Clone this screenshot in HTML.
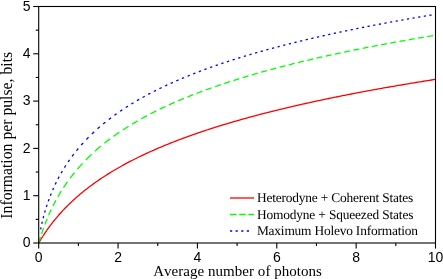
<!DOCTYPE html>
<html><head><meta charset="utf-8"><style>
html,body{margin:0;padding:0;background:#fff;}
svg{display:block;will-change:transform}
text{font-kerning:none;font-variant-ligatures:none}
.sans{font-family:"Liberation Sans",sans-serif;font-size:14px;fill:#000}
.serif{font-family:"Liberation Serif",serif;font-size:13.4px;fill:#000}
.ax{font-family:"Liberation Serif",serif;font-size:15px;fill:#000}
</style></head><body>
<svg width="443" height="279" viewBox="0 0 443 279">
<rect width="443" height="279" fill="#fff"/>
<g fill="none" stroke-width="1.3" stroke-linecap="butt">
<path d="M38.70,243.00 L38.70,243.00 L38.71,242.98 L38.72,242.96 L38.74,242.93 L38.76,242.89 L38.79,242.85 L38.82,242.79 L38.86,242.73 L38.90,242.66 L38.95,242.57 L39.00,242.49 L39.06,242.39 L39.12,242.28 L39.19,242.17 L39.26,242.05 L39.33,241.92 L39.42,241.78 L39.50,241.63 L39.60,241.48 L39.69,241.31 L39.79,241.14 L39.90,240.97 L40.01,240.78 L40.13,240.59 L40.25,240.39 L40.38,240.18 L40.51,239.96 L40.64,239.74 L40.79,239.50 L40.93,239.27 L41.08,239.02 L41.24,238.77 L41.40,238.51 L41.57,238.24 L41.74,237.97 L41.91,237.69 L42.10,237.40 L42.28,237.10 L42.47,236.80 L42.67,236.50 L42.87,236.18 L43.07,235.86 L43.29,235.54 L43.50,235.21 L43.72,234.87 L43.95,234.52 L44.18,234.17 L44.41,233.82 L44.65,233.46 L44.90,233.09 L45.15,232.72 L45.41,232.34 L45.67,231.96 L45.93,231.58 L46.20,231.18 L46.48,230.79 L46.76,230.38 L47.04,229.98 L47.33,229.57 L47.63,229.15 L47.93,228.73 L48.23,228.31 L48.54,227.88 L48.86,227.45 L49.18,227.01 L49.50,226.57 L49.83,226.12 L50.17,225.68 L50.51,225.22 L50.85,224.77 L51.20,224.31 L51.56,223.85 L51.92,223.38 L52.28,222.91 L52.65,222.44 L53.02,221.97 L53.40,221.49 L53.79,221.01 L54.18,220.53 L54.57,220.04 L54.97,219.55 L55.38,219.06 L55.78,218.57 L56.20,218.07 L56.62,217.57 L57.04,217.07 L57.47,216.57 L57.91,216.06 L58.34,215.56 L58.79,215.05 L59.24,214.54 L59.69,214.02 L60.15,213.51 L60.61,212.99 L61.08,212.48 L61.56,211.96 L62.03,211.44 L62.52,210.92 L63.01,210.39 L63.50,209.87 L64.00,209.34 L64.50,208.82 L65.01,208.29 L65.52,207.76 L66.04,207.23 L66.57,206.70 L67.09,206.17 L67.63,205.64 L68.16,205.10 L68.71,204.57 L69.26,204.03 L69.81,203.50 L70.37,202.96 L70.93,202.43 L71.50,201.89 L72.07,201.35 L72.65,200.82 L73.23,200.28 L73.82,199.74 L74.41,199.20 L75.01,198.66 L75.61,198.12 L76.22,197.58 L76.83,197.04 L77.45,196.50 L78.07,195.96 L78.70,195.43 L79.33,194.89 L79.97,194.35 L80.61,193.81 L81.26,193.27 L81.91,192.73 L82.57,192.19 L83.23,191.65 L83.90,191.11 L84.57,190.57 L85.25,190.04 L85.93,189.50 L86.62,188.96 L87.31,188.43 L88.00,187.89 L88.71,187.35 L89.41,186.82 L90.13,186.28 L90.84,185.75 L91.56,185.21 L92.29,184.68 L93.02,184.15 L93.76,183.61 L94.50,183.08 L95.25,182.55 L96.00,182.02 L96.75,181.49 L97.52,180.96 L98.28,180.43 L99.05,179.90 L99.83,179.37 L100.61,178.85 L101.40,178.32 L102.19,177.80 L102.98,177.27 L103.79,176.75 L104.59,176.23 L105.40,175.70 L106.22,175.18 L107.04,174.66 L107.86,174.14 L108.70,173.62 L109.53,173.10 L110.37,172.59 L111.22,172.07 L112.07,171.56 L112.92,171.04 L113.78,170.53 L114.65,170.01 L115.52,169.50 L116.40,168.99 L117.28,168.48 L118.16,167.97 L119.05,167.46 L119.95,166.96 L120.85,166.45 L121.75,165.95 L122.66,165.44 L123.58,164.94 L124.50,164.44 L125.42,163.94 L126.35,163.44 L127.29,162.94 L128.23,162.44 L129.17,161.94 L130.12,161.44 L131.08,160.95 L132.04,160.46 L133.00,159.96 L133.97,159.47 L134.95,158.98 L135.93,158.49 L136.91,158.00 L137.90,157.51 L138.89,157.03 L139.89,156.54 L140.90,156.05 L141.91,155.57 L142.92,155.09 L143.94,154.61 L144.97,154.13 L145.99,153.65 L147.03,153.17 L148.07,152.69 L149.11,152.21 L150.16,151.74 L151.22,151.26 L152.27,150.79 L153.34,150.32 L154.41,149.85 L155.48,149.38 L156.56,148.91 L157.64,148.44 L158.73,147.97 L159.83,147.51 L160.92,147.04 L162.03,146.58 L163.14,146.12 L164.25,145.66 L165.37,145.20 L166.49,144.74 L167.62,144.28 L168.75,143.82 L169.89,143.37 L171.04,142.91 L172.18,142.46 L173.34,142.00 L174.49,141.55 L175.66,141.10 L176.83,140.65 L178.00,140.20 L179.18,139.75 L180.36,139.31 L181.55,138.86 L182.74,138.42 L183.94,137.97 L185.14,137.53 L186.35,137.09 L187.56,136.65 L188.78,136.21 L190.00,135.77 L191.23,135.34 L192.46,134.90 L193.70,134.46 L194.94,134.03 L196.19,133.60 L197.44,133.17 L198.70,132.73 L199.96,132.30 L201.23,131.88 L202.50,131.45 L203.78,131.02 L205.06,130.59 L206.35,130.17 L207.64,129.75 L208.94,129.32 L210.24,128.90 L211.55,128.48 L212.86,128.06 L214.17,127.64 L215.50,127.22 L216.82,126.81 L218.16,126.39 L219.49,125.97 L220.83,125.56 L222.18,125.15 L223.53,124.74 L224.89,124.32 L226.25,123.91 L227.62,123.51 L228.99,123.10 L230.36,122.69 L231.75,122.28 L233.13,121.88 L234.52,121.47 L235.92,121.07 L237.32,120.67 L238.73,120.27 L240.14,119.87 L241.55,119.47 L242.98,119.07 L244.40,118.67 L245.83,118.27 L247.27,117.88 L248.71,117.48 L250.15,117.09 L251.61,116.70 L253.06,116.30 L254.52,115.91 L255.99,115.52 L257.46,115.13 L258.93,114.74 L260.41,114.36 L261.90,113.97 L263.39,113.58 L264.89,113.20 L266.39,112.81 L267.89,112.43 L269.40,112.05 L270.92,111.67 L272.44,111.29 L273.96,110.91 L275.49,110.53 L277.03,110.15 L278.57,109.77 L280.11,109.40 L281.66,109.02 L283.22,108.65 L284.78,108.27 L286.34,107.90 L287.91,107.53 L289.49,107.16 L291.07,106.79 L292.65,106.42 L294.24,106.05 L295.84,105.68 L297.44,105.32 L299.04,104.95 L300.65,104.59 L302.26,104.22 L303.88,103.86 L305.51,103.50 L307.14,103.13 L308.77,102.77 L310.41,102.41 L312.06,102.05 L313.70,101.69 L315.36,101.34 L317.02,100.98 L318.68,100.62 L320.35,100.27 L322.03,99.91 L323.70,99.56 L325.39,99.21 L327.08,98.86 L328.77,98.50 L330.47,98.15 L332.17,97.80 L333.88,97.45 L335.60,97.11 L337.31,96.76 L339.04,96.41 L340.77,96.07 L342.50,95.72 L344.24,95.38 L345.98,95.03 L347.73,94.69 L349.48,94.35 L351.24,94.00 L353.01,93.66 L354.77,93.32 L356.55,92.98 L358.32,92.65 L360.11,92.31 L361.90,91.97 L363.69,91.64 L365.49,91.30 L367.29,90.96 L369.10,90.63 L370.91,90.30 L372.73,89.96 L374.55,89.63 L376.38,89.30 L378.21,88.97 L380.05,88.64 L381.89,88.31 L383.74,87.98 L385.59,87.65 L387.45,87.33 L389.31,87.00 L391.18,86.68 L393.05,86.35 L394.93,86.03 L396.81,85.70 L398.70,85.38 L400.59,85.06 L402.49,84.74 L404.39,84.41 L406.30,84.09 L408.21,83.77 L410.13,83.46 L412.05,83.14 L413.98,82.82 L415.91,82.50 L417.84,82.19 L419.79,81.87 L421.73,81.56 L423.69,81.24 L425.64,80.93 L427.60,80.61 L429.57,80.30 L431.54,79.99 L433.52,79.68 L435.50,79.37" stroke="#ff0000"/>
<path d="M38.71,242.97 L39.05,241.81 L39.40,240.65 L39.75,239.49 L40.11,238.33 L40.47,237.17 M41.58,233.74 L41.97,232.58 L42.37,231.42 L42.77,230.26 L43.18,229.10 L43.60,227.94 M44.87,224.52 L45.32,223.36 L45.77,222.20 L46.23,221.04 L46.70,219.88 L47.18,218.72 M48.64,215.29 L49.15,214.13 L49.67,212.97 L50.20,211.81 L50.73,210.65 L51.28,209.49 M52.95,206.07 L53.53,204.91 L54.13,203.75 L54.73,202.59 L55.35,201.43 L55.97,200.27 M57.88,196.84 L58.55,195.68 L59.23,194.52 L59.92,193.36 L60.63,192.20 L61.34,191.04 M63.53,187.61 L64.30,186.45 L65.08,185.29 L65.87,184.13 L66.67,182.97 L67.49,181.81 M70.00,178.39 L70.88,177.23 L71.77,176.07 L72.67,174.91 L73.60,173.75 L74.54,172.59 M77.40,169.16 L78.41,168.00 L79.43,166.84 L80.46,165.68 L81.52,164.52 L82.60,163.36 M85.88,159.94 L87.03,158.78 L88.19,157.62 L89.35,156.49 L90.51,155.38 L91.67,154.28 M95.09,151.14 L96.25,150.11 L97.41,149.10 L98.57,148.10 L99.73,147.11 L100.89,146.14 M104.32,143.35 L105.48,142.43 L106.64,141.52 L107.80,140.62 L108.96,139.74 L110.12,138.87 M113.54,136.35 L114.70,135.52 L115.86,134.70 L117.02,133.89 L118.18,133.09 L119.34,132.30 M122.77,130.01 L123.93,129.25 L125.09,128.50 L126.25,127.76 L127.41,127.03 L128.57,126.30 M132.00,124.20 L133.16,123.51 L134.32,122.82 L135.48,122.14 L136.64,121.46 L137.80,120.79 M141.22,118.85 L142.38,118.21 L143.54,117.57 L144.70,116.94 L145.86,116.31 L147.02,115.69 M150.45,113.89 L151.61,113.29 L152.77,112.70 L153.93,112.11 L155.09,111.53 L156.25,110.95 M159.67,109.27 L160.83,108.71 L161.99,108.15 L163.15,107.60 L164.31,107.06 L165.47,106.51 M168.90,104.94 L170.06,104.41 L171.22,103.89 L172.38,103.37 L173.54,102.86 L174.70,102.35 M178.13,100.87 L179.29,100.37 L180.45,99.88 L181.61,99.39 L182.77,98.91 L183.93,98.42 M187.35,97.02 L188.51,96.55 L189.67,96.09 L190.83,95.63 L191.99,95.17 L193.15,94.71 M196.58,93.39 L197.74,92.94 L198.90,92.50 L200.06,92.06 L201.22,91.63 L202.38,91.19 M205.80,89.93 L206.96,89.51 L208.12,89.09 L209.28,88.67 L210.44,88.26 L211.60,87.85 M215.03,86.64 L216.19,86.24 L217.35,85.84 L218.51,85.44 L219.67,85.05 L220.83,84.66 M224.26,83.51 L225.42,83.12 L226.58,82.74 L227.74,82.36 L228.90,81.98 L230.06,81.61 M233.48,80.51 L234.64,80.14 L235.80,79.78 L236.96,79.41 L238.12,79.05 L239.28,78.69 M242.71,77.64 L243.87,77.28 L245.03,76.93 L246.19,76.58 L247.35,76.24 L248.51,75.89 M251.93,74.88 L253.09,74.54 L254.25,74.21 L255.41,73.87 L256.57,73.54 L257.73,73.20 M261.16,72.23 L262.32,71.91 L263.48,71.58 L264.64,71.26 L265.80,70.94 L266.96,70.62 M270.39,69.68 L271.55,69.37 L272.71,69.06 L273.87,68.74 L275.03,68.43 L276.19,68.13 M279.61,67.22 L280.77,66.92 L281.93,66.62 L283.09,66.32 L284.25,66.02 L285.41,65.72 M288.84,64.85 L290.00,64.56 L291.16,64.27 L292.32,63.98 L293.48,63.69 L294.64,63.40 M298.06,62.56 L299.22,62.28 L300.38,61.99 L301.54,61.71 L302.70,61.43 L303.86,61.16 M307.29,60.34 L308.45,60.07 L309.61,59.79 L310.77,59.52 L311.93,59.25 L313.09,58.98 M316.52,58.19 L317.68,57.93 L318.84,57.66 L320.00,57.40 L321.16,57.14 L322.32,56.87 M325.74,56.11 L326.90,55.85 L328.06,55.59 L329.22,55.34 L330.38,55.08 L331.54,54.83 M334.97,54.09 L336.13,53.84 L337.29,53.59 L338.45,53.34 L339.61,53.09 L340.77,52.85 M344.19,52.12 L345.35,51.88 L346.51,51.64 L347.67,51.40 L348.83,51.16 L349.99,50.92 M353.42,50.22 L354.58,49.98 L355.74,49.74 L356.90,49.51 L358.06,49.28 L359.22,49.04 M362.65,48.36 L363.81,48.13 L364.97,47.90 L366.13,47.67 L367.29,47.44 L368.45,47.22 M371.87,46.55 L373.03,46.33 L374.19,46.11 L375.35,45.88 L376.51,45.66 L377.67,45.44 M381.10,44.79 L382.26,44.57 L383.42,44.36 L384.58,44.14 L385.74,43.92 L386.90,43.71 M390.32,43.08 L391.48,42.86 L392.64,42.65 L393.80,42.44 L394.96,42.23 L396.12,42.02 M399.55,41.40 L400.71,41.19 L401.87,40.99 L403.03,40.78 L404.19,40.57 L405.35,40.37 M408.78,39.77 L409.94,39.56 L411.10,39.36 L412.26,39.16 L413.42,38.96 L414.58,38.76 M418.00,38.17 L419.16,37.97 L420.32,37.78 L421.48,37.58 L422.64,37.38 L423.80,37.19 M427.23,36.61 L428.39,36.42 L429.55,36.23 L430.71,36.03 L431.87,35.84 L433.03,35.65" stroke="#00ff00"/>
<path d="M40.65,229.47 L40.73,229.03 L40.82,228.59 L40.90,228.15 L40.99,227.71 L41.08,227.27 M41.81,223.85 L41.90,223.41 L42.00,222.97 L42.10,222.53 L42.20,222.09 L42.31,221.65 M43.14,218.22 L43.25,217.78 L43.37,217.34 L43.48,216.90 L43.60,216.46 L43.71,216.02 M44.66,212.60 L44.78,212.16 L44.91,211.72 L45.04,211.28 L45.17,210.84 L45.30,210.40 M46.36,206.98 L46.50,206.54 L46.64,206.10 L46.78,205.66 L46.93,205.22 L47.07,204.78 M48.25,201.35 L48.41,200.91 L48.56,200.47 L48.72,200.03 L48.88,199.59 L49.04,199.15 M50.35,195.73 L50.52,195.29 L50.70,194.85 L50.87,194.41 L51.05,193.97 L51.23,193.53 M52.66,190.10 L52.85,189.66 L53.05,189.22 L53.24,188.78 L53.44,188.34 L53.63,187.90 M55.21,184.48 L55.42,184.04 L55.63,183.60 L55.85,183.16 L56.06,182.72 L56.28,182.28 M58.01,178.86 L58.24,178.42 L58.47,177.98 L58.70,177.54 L58.94,177.10 L59.18,176.66 M61.08,173.23 L61.33,172.79 L61.58,172.35 L61.84,171.91 L62.09,171.47 L62.35,171.03 M64.43,167.61 L64.70,167.17 L64.98,166.73 L65.26,166.29 L65.54,165.85 L65.82,165.41 M68.09,161.98 L68.39,161.54 L68.70,161.10 L69.00,160.66 L69.31,160.22 L69.62,159.78 M72.09,156.36 L72.42,155.92 L72.75,155.48 L73.08,155.04 L73.42,154.60 L73.75,154.16 M76.45,150.74 L76.81,150.30 L77.17,149.86 L77.53,149.42 L77.90,148.98 L78.27,148.54 M81.21,145.11 L81.60,144.67 L81.99,144.23 L82.38,143.79 L82.78,143.35 L83.18,142.91 M86.39,139.49 L86.81,139.05 L87.24,138.61 L87.67,138.17 L88.10,137.73 L88.53,137.29 M91.96,133.93 L92.40,133.51 L92.84,133.09 L93.28,132.68 L93.72,132.26 L94.16,131.85 M97.58,128.75 L98.02,128.36 L98.46,127.97 L98.90,127.59 L99.34,127.21 L99.78,126.83 M103.20,123.94 L103.64,123.58 L104.08,123.22 L104.52,122.86 L104.96,122.51 L105.40,122.15 M108.83,119.46 L109.27,119.12 L109.71,118.78 L110.15,118.45 L110.59,118.12 L111.03,117.78 M114.45,115.26 L114.89,114.94 L115.33,114.62 L115.77,114.31 L116.21,113.99 L116.65,113.68 M120.08,111.30 L120.52,111.00 L120.96,110.70 L121.40,110.41 L121.84,110.11 L122.28,109.82 M125.70,107.57 L126.14,107.28 L126.58,107.00 L127.02,106.72 L127.46,106.44 L127.90,106.16 M131.32,104.03 L131.76,103.76 L132.20,103.49 L132.64,103.22 L133.08,102.96 L133.52,102.69 M136.95,100.66 L137.39,100.41 L137.83,100.15 L138.27,99.90 L138.71,99.64 L139.15,99.39 M142.57,97.46 L143.01,97.21 L143.45,96.97 L143.89,96.73 L144.33,96.49 L144.77,96.25 M148.20,94.40 L148.64,94.17 L149.08,93.93 L149.52,93.70 L149.96,93.47 L150.40,93.24 M153.82,91.47 L154.26,91.25 L154.70,91.03 L155.14,90.80 L155.58,90.58 L156.02,90.36 M159.44,88.67 L159.88,88.45 L160.32,88.24 L160.76,88.03 L161.20,87.81 L161.64,87.60 M165.07,85.97 L165.51,85.77 L165.95,85.56 L166.39,85.36 L166.83,85.15 L167.27,84.95 M170.69,83.38 L171.13,83.18 L171.57,82.99 L172.01,82.79 L172.45,82.59 L172.89,82.40 M176.32,80.89 L176.76,80.70 L177.20,80.50 L177.64,80.31 L178.08,80.12 L178.52,79.94 M181.94,78.48 L182.38,78.30 L182.82,78.11 L183.26,77.93 L183.70,77.74 L184.14,77.56 M187.56,76.16 L188.00,75.98 L188.44,75.80 L188.88,75.62 L189.32,75.44 L189.76,75.27 M193.19,73.91 L193.63,73.73 L194.07,73.56 L194.51,73.39 L194.95,73.22 L195.39,73.05 M198.81,71.73 L199.25,71.56 L199.69,71.40 L200.13,71.23 L200.57,71.06 L201.01,70.90 M204.44,69.62 L204.88,69.46 L205.32,69.30 L205.76,69.14 L206.20,68.98 L206.64,68.82 M210.06,67.58 L210.50,67.42 L210.94,67.26 L211.38,67.11 L211.82,66.95 L212.26,66.79 M215.68,65.59 L216.12,65.44 L216.56,65.29 L217.00,65.14 L217.44,64.98 L217.88,64.83 M221.31,63.66 L221.75,63.52 L222.19,63.37 L222.63,63.22 L223.07,63.07 L223.51,62.92 M226.93,61.79 L227.37,61.64 L227.81,61.50 L228.25,61.36 L228.69,61.21 L229.13,61.07 M232.56,59.96 L233.00,59.82 L233.44,59.68 L233.88,59.54 L234.32,59.40 L234.76,59.26 M238.18,58.19 L238.62,58.05 L239.06,57.91 L239.50,57.77 L239.94,57.64 L240.38,57.50 M243.80,56.45 L244.24,56.32 L244.68,56.19 L245.12,56.05 L245.56,55.92 L246.00,55.79 M249.43,54.76 L249.87,54.63 L250.31,54.50 L250.75,54.37 L251.19,54.24 L251.63,54.11 M255.05,53.12 L255.49,52.99 L255.93,52.86 L256.37,52.73 L256.81,52.61 L257.25,52.48 M260.68,51.51 L261.12,51.38 L261.56,51.26 L262.00,51.13 L262.44,51.01 L262.88,50.89 M266.30,49.93 L266.74,49.81 L267.18,49.69 L267.62,49.57 L268.06,49.45 L268.50,49.33 M271.92,48.40 L272.36,48.28 L272.80,48.16 L273.24,48.04 L273.68,47.92 L274.12,47.80 M277.55,46.89 L277.99,46.78 L278.43,46.66 L278.87,46.55 L279.31,46.43 L279.75,46.31 M283.17,45.42 L283.61,45.31 L284.05,45.20 L284.49,45.08 L284.93,44.97 L285.37,44.86 M288.80,43.98 L289.24,43.87 L289.68,43.76 L290.12,43.65 L290.56,43.54 L291.00,43.43 M294.42,42.57 L294.86,42.47 L295.30,42.36 L295.74,42.25 L296.18,42.14 L296.62,42.03 M300.04,41.19 L300.48,41.09 L300.92,40.98 L301.36,40.87 L301.80,40.77 L302.24,40.66 M305.67,39.84 L306.11,39.73 L306.55,39.63 L306.99,39.53 L307.43,39.42 L307.87,39.32 M311.29,38.51 L311.73,38.41 L312.17,38.31 L312.61,38.20 L313.05,38.10 L313.49,38.00 M316.92,37.21 L317.36,37.11 L317.80,37.01 L318.24,36.91 L318.68,36.81 L319.12,36.71 M322.54,35.93 L322.98,35.83 L323.42,35.74 L323.86,35.64 L324.30,35.54 L324.74,35.44 M328.16,34.68 L328.60,34.58 L329.04,34.48 L329.48,34.39 L329.92,34.29 L330.36,34.19 M333.79,33.45 L334.23,33.35 L334.67,33.26 L335.11,33.16 L335.55,33.07 L335.99,32.97 M339.41,32.24 L339.85,32.14 L340.29,32.05 L340.73,31.96 L341.17,31.86 L341.61,31.77 M345.04,31.05 L345.48,30.96 L345.92,30.87 L346.36,30.77 L346.80,30.68 L347.24,30.59 M350.66,29.88 L351.10,29.79 L351.54,29.70 L351.98,29.61 L352.42,29.52 L352.86,29.43 M356.28,28.73 L356.72,28.64 L357.16,28.56 L357.60,28.47 L358.04,28.38 L358.48,28.29 M361.91,27.60 L362.35,27.52 L362.79,27.43 L363.23,27.34 L363.67,27.25 L364.11,27.17 M367.53,26.49 L367.97,26.41 L368.41,26.32 L368.85,26.24 L369.29,26.15 L369.73,26.06 M373.16,25.40 L373.60,25.32 L374.04,25.23 L374.48,25.15 L374.92,25.06 L375.36,24.98 M378.78,24.32 L379.22,24.24 L379.66,24.16 L380.10,24.07 L380.54,23.99 L380.98,23.91 M384.40,23.27 L384.84,23.18 L385.28,23.10 L385.72,23.02 L386.16,22.94 L386.60,22.86 M390.03,22.22 L390.47,22.14 L390.91,22.06 L391.35,21.98 L391.79,21.90 L392.23,21.82 M395.65,21.20 L396.09,21.12 L396.53,21.04 L396.97,20.96 L397.41,20.88 L397.85,20.80 M401.28,20.18 L401.72,20.10 L402.16,20.03 L402.60,19.95 L403.04,19.87 L403.48,19.79 M406.90,19.19 L407.34,19.11 L407.78,19.03 L408.22,18.95 L408.66,18.88 L409.10,18.80 M412.52,18.20 L412.96,18.13 L413.40,18.05 L413.84,17.97 L414.28,17.90 L414.72,17.82 M418.15,17.23 L418.59,17.16 L419.03,17.08 L419.47,17.01 L419.91,16.93 L420.35,16.86 M423.77,16.28 L424.21,16.21 L424.65,16.13 L425.09,16.06 L425.53,15.98 L425.97,15.91 M429.40,15.34 L429.84,15.26 L430.28,15.19 L430.72,15.12 L431.16,15.05 L431.60,14.97 M435.02,14.41 L435.12,14.39 L435.21,14.38 L435.31,14.36 L435.40,14.35 L435.50,14.33" stroke="#0000ff"/>
</g>
<g stroke="#000" stroke-width="1.1" fill="none">
<rect x="38.7" y="6.5" width="396.8" height="236.5"/>
<line x1="38.70" y1="243.0" x2="38.70" y2="248.6"/><line x1="78.38" y1="243.0" x2="78.38" y2="246.0"/><line x1="118.06" y1="243.0" x2="118.06" y2="248.6"/><line x1="157.74" y1="243.0" x2="157.74" y2="246.0"/><line x1="197.42" y1="243.0" x2="197.42" y2="248.6"/><line x1="237.10" y1="243.0" x2="237.10" y2="246.0"/><line x1="276.78" y1="243.0" x2="276.78" y2="248.6"/><line x1="316.46" y1="243.0" x2="316.46" y2="246.0"/><line x1="356.14" y1="243.0" x2="356.14" y2="248.6"/><line x1="395.82" y1="243.0" x2="395.82" y2="246.0"/><line x1="435.50" y1="243.0" x2="435.50" y2="248.6"/><line x1="33.2" y1="243.00" x2="38.7" y2="243.00"/><line x1="35.7" y1="219.35" x2="38.7" y2="219.35"/><line x1="33.2" y1="195.70" x2="38.7" y2="195.70"/><line x1="35.7" y1="172.05" x2="38.7" y2="172.05"/><line x1="33.2" y1="148.40" x2="38.7" y2="148.40"/><line x1="35.7" y1="124.75" x2="38.7" y2="124.75"/><line x1="33.2" y1="101.10" x2="38.7" y2="101.10"/><line x1="35.7" y1="77.45" x2="38.7" y2="77.45"/><line x1="33.2" y1="53.80" x2="38.7" y2="53.80"/><line x1="35.7" y1="30.15" x2="38.7" y2="30.15"/><line x1="33.2" y1="6.50" x2="38.7" y2="6.50"/>
</g>
<g class="sans"><text x="38.70" y="261.5" text-anchor="middle">0</text><text x="118.06" y="261.5" text-anchor="middle">2</text><text x="197.42" y="261.5" text-anchor="middle">4</text><text x="276.78" y="261.5" text-anchor="middle">6</text><text x="356.14" y="261.5" text-anchor="middle">8</text><text x="435.50" y="261.5" text-anchor="middle">10</text><text x="30.6" y="247.30" text-anchor="end">0</text><text x="30.6" y="200.00" text-anchor="end">1</text><text x="30.6" y="152.70" text-anchor="end">2</text><text x="30.6" y="105.40" text-anchor="end">3</text><text x="30.6" y="58.10" text-anchor="end">4</text><text x="30.6" y="10.80" text-anchor="end">5</text></g>
<g fill="none" stroke-width="1.3">
<line x1="230" y1="198" x2="254" y2="198" stroke="#ff0000"/>
<line x1="230" y1="214.5" x2="254" y2="214.5" stroke="#00ff00" stroke-dasharray="6.5 2.7"/>
<line x1="230" y1="231" x2="249.2" y2="231" stroke="#0000ff" stroke-dasharray="2.2 3.4"/>
</g>
<g class="serif">
<text transform="translate(256.9,202) skewX(0.05)" textLength="156.4" lengthAdjust="spacing">Heterodyne + Coherent States</text>
<text transform="translate(256.9,218.5) skewX(0.05)" textLength="156.5" lengthAdjust="spacing">Homodyne + Squeezed States</text>
<text transform="translate(256.9,235) skewX(0.05)" textLength="161.0" lengthAdjust="spacing">Maximum Holevo Information</text>
</g>
<g class="ax">
<text x="153.2" y="275.7" textLength="168.7" lengthAdjust="spacing">Average number of photons</text>
<text transform="translate(11.6,135.25) rotate(-90)" text-anchor="middle" style="font-size:15.72px">Information per pulse, bits</text>
</g>
</svg>
</body></html>
